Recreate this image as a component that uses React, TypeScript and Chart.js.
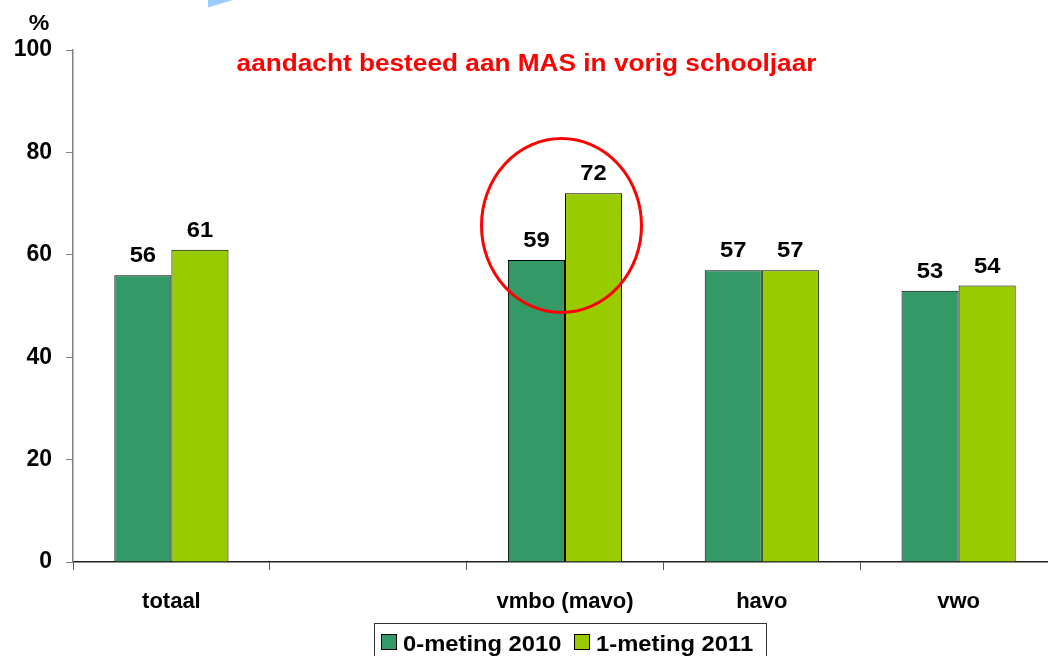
import React, { useEffect, useRef } from 'react';
import { Chart, registerables } from 'chart.js';

Chart.register(...registerables);

const categories = ['totaal', '', 'vmbo (mavo)', 'havo', 'vwo'];
const meting2010 = [56, null, 59, 57, 53];
const meting2011 = [61, null, 72, 57, 54];
const seriesNames = ['0-meting 2010', '1-meting 2011'];
const seriesColors = ['#339966', '#99CC00'];
const yMin = 0;
const yMax = 100;
const yStep = 20;
const titleText = 'aandacht besteed aan MAS in vorig schooljaar';
const unitText = '%';

const FONT = "'Liberation Sans', Arial, sans-serif";

function drawStretched(ctx: CanvasRenderingContext2D, text: string, x: number, y: number, font: string, color: string, align: string, sx: number) {
  ctx.save();
  ctx.font = font;
  ctx.fillStyle = color;
  ctx.textBaseline = 'alphabetic';
  ctx.textAlign = 'left';
  const w = ctx.measureText(text).width * sx;
  const left = align === 'center' ? x - w / 2 : align === 'right' ? x - w : x;
  ctx.translate(left, y);
  ctx.scale(sx, 1);
  ctx.fillText(text, 0, 0);
  ctx.restore();
}

const overlayPlugin = {
  id: 'overlay',
  afterDatasetsDraw(chart: any) {
    const ctx = chart.ctx as CanvasRenderingContext2D;
    chart.data.datasets.forEach((ds: any, di: number) => {
      const meta = chart.getDatasetMeta(di);
      meta.data.forEach((bar: any, i: number) => {
        const v = ds.data[i];
        if (v === null || v === undefined) return;
        drawStretched(ctx, String(v), bar.x, bar.y - 13, `bold 22px ${FONT}`, '#000', 'center', 1.08);
      });
    });
    ctx.save();
    ctx.strokeStyle = '#FF0000';
    ctx.lineWidth = 3;
    ctx.beginPath();
    ctx.ellipse(561.5, 225.5, 80, 87, 0, 0, Math.PI * 2);
    ctx.stroke();
    ctx.restore();
  },
  afterDraw(chart: any) {
    const ctx = chart.ctx as CanvasRenderingContext2D;
    drawStretched(ctx, titleText, 526.5, 71, `bold 23px ${FONT}`, '#FF0000', 'center', 1.14);
    drawStretched(ctx, unitText, 39, 30, `bold 22px ${FONT}`, '#000', 'center', 1.05);
    ctx.save();
    ctx.fillStyle = '#99CCFF';
    ctx.beginPath();
    ctx.moveTo(208, 0);
    ctx.lineTo(208, 7.5);
    ctx.lineTo(233, 0);
    ctx.closePath();
    ctx.fill();
    ctx.restore();
    ctx.save();
    ctx.strokeStyle = '#333';
    ctx.lineWidth = 1;
    ctx.strokeRect(374.5, 623.5, 392, 40);
    const items = [
      { sq: 381, tx: 403 },
      { sq: 574, tx: 596 },
    ];
    items.forEach((it, i) => {
      ctx.fillStyle = chart.data.datasets[i].backgroundColor;
      ctx.fillRect(it.sq + 0.5, 634.5, 15, 15);
      ctx.strokeStyle = '#000';
      ctx.strokeRect(it.sq + 0.5, 634.5, 15, 15);
      drawStretched(ctx, chart.data.datasets[i].label, it.tx, 651, `bold 22px ${FONT}`, '#000', 'left', 1.08);
    });
    ctx.restore();
  },
};

export default function App() {
  const ref = useRef<HTMLCanvasElement | null>(null);
  useEffect(() => {
    if (!ref.current) return;
    const chart = new Chart(ref.current, {
      type: 'bar',
      data: {
        labels: categories,
        datasets: [
          { label: seriesNames[0], data: meting2010, backgroundColor: seriesColors[0], borderColor: '#000', borderWidth: 1 },
          { label: seriesNames[1], data: meting2011, backgroundColor: seriesColors[1], borderColor: '#000', borderWidth: 1 },
        ],
      },
      options: {
        responsive: false,
        animation: false,
        devicePixelRatio: 1,
        layout: { padding: { top: 50, right: 13, left: 0, bottom: 0 } },
        datasets: { bar: { categoryPercentage: 0.58, barPercentage: 1 } },
        plugins: {
          legend: { display: false },
          tooltip: { enabled: false },
          title: { display: false },
        },
        scales: {
          x: {
            type: 'category',
            grid: { offset: true, drawOnChartArea: false, drawTicks: true, tickLength: 8, color: '#555' },
            border: { display: true, color: '#222', width: 1.5 },
            ticks: { font: { family: FONT, size: 22, weight: 'bold' }, color: '#000', padding: 19, maxRotation: 0, autoSkip: false },
            afterFit: (scale: any) => { scale.height = 94; },
          },
          y: {
            min: yMin,
            max: yMax,
            ticks: { stepSize: yStep, font: { family: FONT, size: 23, weight: 'bold' }, color: '#000', padding: 14 },
            grid: { drawOnChartArea: false, drawTicks: true, tickLength: 7, color: '#808080' },
            border: { display: true, color: '#808080', width: 1.5 },
            afterFit: (scale: any) => { scale.width = 73; },
          },
        },
      },
      plugins: [overlayPlugin],
    } as any);
    return () => chart.destroy();
  }, []);
  return (
    <div style={{ position: 'fixed', left: 0, top: 0, width: 1048, height: 656, overflow: 'hidden', background: '#fff' }}>
      <canvas ref={ref} width={1070} height={656} style={{ display: 'block' }} />
    </div>
  );
}
